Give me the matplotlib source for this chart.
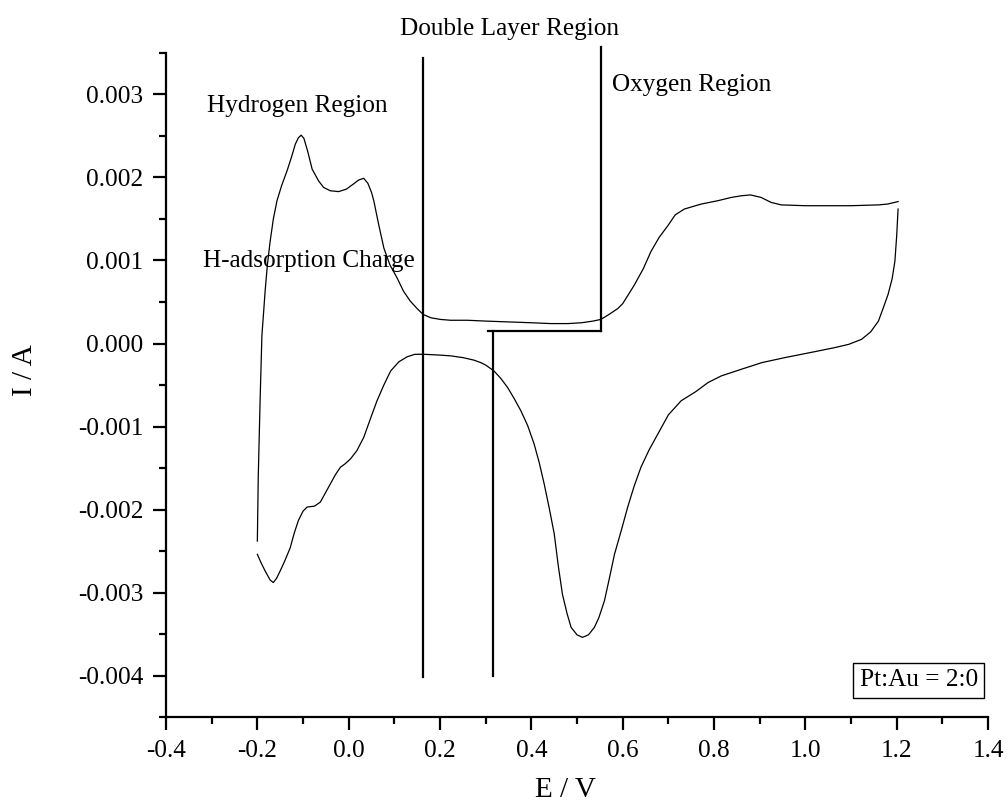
import numpy as np
import matplotlib
matplotlib.use("Agg")
import matplotlib.pyplot as plt
from matplotlib.ticker import MultipleLocator, FormatStrFormatter

plt.rcParams["font.family"] = ["Liberation Serif", "DejaVu Serif"]
plt.rcParams["axes.unicode_minus"] = False

# anodic sweep (E in V, I in mA)
anodic_E = [-0.200, -0.198, -0.194, -0.190, -0.186, -0.183, -0.178, -0.172, -0.165, -0.157,
            -0.147, -0.135, -0.125, -0.117, -0.110, -0.104, -0.098, -0.090, -0.080, -0.066,
            -0.055, -0.040, -0.022, -0.005, 0.010, 0.022, 0.033, 0.042, 0.050, 0.055,
            0.065, 0.077, 0.090, 0.106, 0.120, 0.135, 0.150, 0.163, 0.180, 0.201,
            0.223, 0.260, 0.300, 0.350, 0.400, 0.443, 0.480, 0.510, 0.535, 0.552,
            0.570, 0.589, 0.600, 0.625, 0.645, 0.662, 0.680, 0.699, 0.715, 0.735,
            0.772, 0.808, 0.838, 0.860, 0.880, 0.903, 0.925, 0.947, 1.000, 1.050,
            1.100, 1.160, 1.180, 1.203]
anodic_I = [-2.38, -1.60, -0.69, 0.10, 0.40, 0.63, 0.95, 1.23, 1.50, 1.72,
            1.90, 2.08, 2.25, 2.40, 2.48, 2.51, 2.47, 2.32, 2.10, 1.96,
            1.88, 1.84, 1.83, 1.86, 1.92, 1.97, 1.99, 1.93, 1.82, 1.72,
            1.45, 1.15, 0.95, 0.79, 0.63, 0.51, 0.42, 0.35, 0.31, 0.29,
            0.28, 0.28, 0.27, 0.26, 0.25, 0.24, 0.24, 0.25, 0.27, 0.29,
            0.35, 0.42, 0.48, 0.70, 0.90, 1.11, 1.28, 1.42, 1.55, 1.62,
            1.68, 1.72, 1.76, 1.78, 1.79, 1.76, 1.70, 1.67, 1.66, 1.66,
            1.66, 1.67, 1.68, 1.71]

# cathodic sweep (E in V, I in mA)
cathodic_E = [1.203, 1.200, 1.196, 1.190, 1.181, 1.170, 1.160, 1.143, 1.123, 1.095,
              1.064, 1.010, 0.955, 0.905, 0.860, 0.816, 0.787, 0.760, 0.728, 0.700,
              0.677, 0.658, 0.640, 0.625, 0.611, 0.597, 0.582, 0.570, 0.560, 0.548,
              0.538, 0.525, 0.512, 0.500, 0.487, 0.478, 0.468, 0.459, 0.450, 0.439,
              0.428, 0.417, 0.406, 0.392, 0.377, 0.362, 0.348, 0.333, 0.318, 0.300,
              0.289, 0.274, 0.250, 0.225, 0.201, 0.165, 0.145, 0.128, 0.110, 0.092,
              0.077, 0.062, 0.048, 0.033, 0.018, 0.004, -0.008, -0.018, -0.029, -0.040,
              -0.051, -0.062, -0.075, -0.091, -0.100, -0.110, -0.119, -0.128, -0.140, -0.150,
              -0.158, -0.165, -0.172, -0.183, -0.192, -0.200]
cathodic_I = [1.62, 1.30, 0.99, 0.78, 0.59, 0.42, 0.27, 0.14, 0.05, -0.01,
              -0.05, -0.11, -0.17, -0.23, -0.31, -0.39, -0.47, -0.58, -0.69, -0.86,
              -1.09, -1.28, -1.49, -1.72, -1.97, -2.25, -2.54, -2.85, -3.10, -3.30,
              -3.42, -3.51, -3.54, -3.51, -3.42, -3.25, -3.02, -2.68, -2.29, -1.98,
              -1.69, -1.43, -1.21, -0.99, -0.81, -0.66, -0.53, -0.42, -0.33, -0.26,
              -0.23, -0.20, -0.17, -0.15, -0.14, -0.13, -0.13, -0.16, -0.22, -0.33,
              -0.50, -0.69, -0.90, -1.13, -1.29, -1.39, -1.45, -1.49, -1.58, -1.69,
              -1.80, -1.91, -1.96, -1.97, -2.02, -2.13, -2.28, -2.46, -2.62, -2.74,
              -2.83, -2.88, -2.85, -2.74, -2.64, -2.54]

# region marker lines
dl_start = 0.163
ox_start = 0.552
step_E = 0.316
step_I = 0.000152

fig = plt.figure(figsize=(10.08, 8.09), dpi=100)
ax = fig.add_axes([0.1647, 0.1137, 0.8155, 0.8208])

ax.plot(anodic_E, np.array(anodic_I) * 1e-3, color="black", lw=0.9)
ax.plot(cathodic_E, np.array(cathodic_I) * 1e-3, color="black", lw=0.9)

lk = dict(color="black", lw=1.6, clip_on=False)
ax.plot([dl_start, dl_start], [-0.00402, 0.00344], **lk)
ax.plot([ox_start, ox_start], [step_I, 0.00357], **lk)
ax.plot([step_E - 0.011, ox_start], [step_I, step_I], **lk)
ax.plot([step_E, step_E], [-0.00400, step_I], **lk)

fs = 18.2
ax.text(-0.1125, 0.00286, "Hydrogen Region", fontsize=fs, ha="center", va="center")
ax.text(0.353, 0.00379, "Double Layer Region", fontsize=fs, ha="center", va="center", clip_on=False)
ax.text(0.75, 0.00312, "Oxygen Region", fontsize=fs, ha="center", va="center")
ax.text(-0.088, 0.00099, "H-adsorption Charge", fontsize=fs, ha="center", va="center")
ax.text(1.248, -0.00406, "Pt:Au = 2:0", fontsize=fs, ha="center", va="center",
        bbox=dict(boxstyle="square,pad=0.25", fc="white", ec="black", lw=1.0))

ax.set_xlim(-0.4, 1.4)
ax.set_ylim(-0.0045, 0.0035)
ax.xaxis.set_major_locator(MultipleLocator(0.2))
ax.xaxis.set_minor_locator(MultipleLocator(0.1))
ax.yaxis.set_major_locator(MultipleLocator(0.001))
ax.yaxis.set_minor_locator(MultipleLocator(0.0005))
ax.xaxis.set_major_formatter(FormatStrFormatter("%.1f"))
ax.yaxis.set_major_formatter(FormatStrFormatter("%.3f"))

for s in ["top", "right"]:
    ax.spines[s].set_visible(False)
for s in ["left", "bottom"]:
    ax.spines[s].set_linewidth(1.6)
ax.tick_params(which="major", direction="out", length=9.5, width=1.6, labelsize=fs, pad=7)
ax.tick_params(which="minor", direction="out", length=5, width=1.6)

fig.text(565 / 1008, 1 - 790 / 809, "E / V", fontsize=21, ha="center", va="center")
fig.text(25 / 1008, 1 - 370 / 809, "I / A", fontsize=21, ha="center", va="center", rotation=90)

fig.savefig("out.png", dpi=100)
